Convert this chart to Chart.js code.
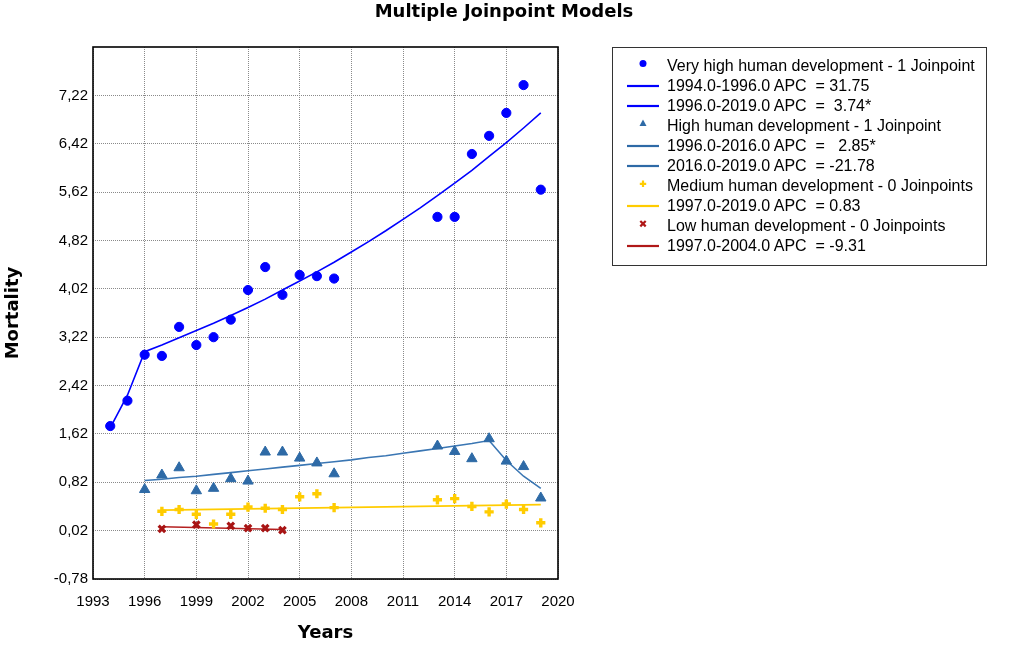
<!DOCTYPE html>
<html>
<head>
<meta charset="utf-8">
<script src="https://cdn.jsdelivr.net/npm/chart.js@4.4.1/dist/chart.umd.min.js"></script>
<style>
  html,body{margin:0;padding:0;background:#fff;}
  #wrap{position:relative;width:1021px;height:663px;overflow:hidden;}
  #c{position:absolute;left:0;top:0;}
  #title{position:absolute;left:0;width:1008px;top:0px;line-height:22px;text-align:center;font:bold 18px "DejaVu Sans",sans-serif;color:#000;}
  #legend{position:absolute;left:612px;top:47px;width:375px;height:219px;border:1px solid #333;box-sizing:border-box;padding-top:8px;}
  .row{height:20px;display:flex;align-items:center;font:16px "Liberation Sans",Arial,sans-serif;color:#000;white-space:pre;}
  .row svg{width:48px;height:20px;margin-left:6px;flex:none;}
</style>
</head>
<body>
<div id="wrap">
<canvas id="c" width="1021" height="663"></canvas>
<div id="title">Multiple Joinpoint Models</div>
<div id="legend"></div>
</div>
<script>
// ---- data ----
const vhYears  = [1994,1995,1996,1997,1998,1999,2000,2001,2002,2003,2004,2005,2006,2007,2013,2014,2015,2016,2017,2018,2019];
const vhValues = [1.75,2.17,2.93,2.91,3.39,3.09,3.22,3.51,4.00,4.38,3.92,4.25,4.23,4.19,5.21,5.21,6.25,6.55,6.93,7.39,5.66];
const vhFitYears  = [1994,1995,1996,1997,1998,1999,2000,2001,2002,2003,2004,2005,2006,2007,2008,2009,2010,2011,2012,2013,2014,2015,2016,2017,2018,2019];
const vhFitValues = [1.72,2.26,2.98,3.09,3.21,3.33,3.45,3.58,3.71,3.85,4.00,4.15,4.30,4.46,4.63,4.80,4.98,5.17,5.36,5.56,5.77,5.98,6.21,6.44,6.68,6.93];

const hYears  = [1996,1997,1998,1999,2000,2001,2002,2003,2004,2005,2006,2007,2013,2014,2015,2016,2017,2018,2019];
const hValues = [0.70,0.94,1.06,0.68,0.72,0.88,0.84,1.32,1.32,1.22,1.14,0.96,1.42,1.33,1.21,1.54,1.17,1.08,0.56];
const hFitYears  = [1996,1997,1998,1999,2000,2001,2002,2003,2004,2005,2006,2007,2008,2009,2010,2011,2012,2013,2014,2015,2016,2017,2018,2019];
const hFitValues = [0.85,0.87,0.90,0.92,0.95,0.98,1.01,1.04,1.07,1.10,1.13,1.16,1.19,1.23,1.26,1.30,1.34,1.38,1.42,1.46,1.51,1.18,0.92,0.72];

const mYears  = [1997,1998,1999,2000,2001,2002,2003,2004,2005,2006,2007,2013,2014,2015,2016,2017,2018,2019];
const mValues = [0.34,0.37,0.29,0.13,0.29,0.41,0.39,0.37,0.58,0.63,0.40,0.53,0.55,0.42,0.33,0.46,0.37,0.15];
const mFitYears  = [1997,2019];
const mFitValues = [0.36,0.45];

const lYears  = [1997,1999,2001,2002,2003,2004];
const lValues = [0.05,0.12,0.10,0.06,0.06,0.03];
const lFitYears  = [1997,2004];
const lFitValues = [0.085,0.04];

const xTicks = [1993,1996,1999,2002,2005,2008,2011,2014,2017,2020];
const yTicks = [-0.78,0.02,0.82,1.62,2.42,3.22,4.02,4.82,5.62,6.42,7.22];
const yMin = -0.78, yMax = 8.02;

const legendItems = [
  {type:'circle', color:'#0000ff', text:'Very high human development - 1 Joinpoint'},
  {type:'line',   color:'#0000ff', text:'1994.0-1996.0 APC  = 31.75'},
  {type:'line',   color:'#0000ff', text:'1996.0-2019.0 APC  =  3.74*'},
  {type:'triangle', color:'#2e6aa6', text:'High human development - 1 Joinpoint'},
  {type:'line',   color:'#2e6aa6', text:'1996.0-2016.0 APC  =   2.85*'},
  {type:'line',   color:'#2e6aa6', text:'2016.0-2019.0 APC  = -21.78'},
  {type:'plus',   color:'#ffcc00', text:'Medium human development - 0 Joinpoints'},
  {type:'line',   color:'#ffcc00', text:'1997.0-2019.0 APC  = 0.83'},
  {type:'cross',  color:'#b01818', text:'Low human development - 0 Joinpoints'},
  {type:'line',   color:'#b01818', text:'1997.0-2004.0 APC  = -9.31'}
];

const pts = (xs, ys) => xs.map((x,i)=>({x:x, y:ys[i]}));

// ---- legend (HTML text) ----
const leg = document.getElementById('legend');
legendItems.forEach(it=>{
  const row = document.createElement('div'); row.className='row';
  let icon='';
  if(it.type==='line') icon=`<line x1="8" y1="10" x2="40" y2="10" stroke="${it.color}" stroke-width="2.2"/>`;
  if(it.type==='circle') icon=`<circle cx="24" cy="7.5" r="3.5" fill="${it.color}"/>`;
  if(it.type==='triangle') icon=`<polygon points="24,3.5 27.5,10 20.5,10" fill="${it.color}"/>`;
  if(it.type==='plus') icon=`<path d="M24 4.5 V11 M20.8 7.8 H27.2" stroke="${it.color}" stroke-width="2.2"/>`;
  if(it.type==='cross') icon=`<path d="M21.3 5 L26.7 10.4 M26.7 5 L21.3 10.4" stroke="${it.color}" stroke-width="2.2"/>`;
  row.innerHTML = `<svg viewBox="0 0 48 20">${icon}</svg><span>${it.text}</span>`;
  leg.appendChild(row);
});

// ---- chart ----
const framePlugin = {
  id:'frame',
  afterDraw(chart){
    const {ctx, chartArea:a} = chart;
    ctx.save();
    ctx.strokeStyle='#000'; ctx.lineWidth=1.6; ctx.setLineDash([]);
    ctx.strokeRect(a.left, a.top, a.right-a.left, a.bottom-a.top);
    ctx.restore();
  }
};

const lineDs = (label, xs, ys, color) => ({
  type:'line', label, data:pts(xs,ys), borderColor:color, backgroundColor:color,
  borderWidth:1.6, pointRadius:0, tension:0, fill:false, order:2
});
const markDs = (label, xs, ys, color, style, radius, bw) => ({
  type:'line', label, data:pts(xs,ys), showLine:false, borderColor:color, backgroundColor:color,
  pointStyle:style, pointRadius:radius, pointBorderWidth:bw, pointHoverRadius:radius, order:1
});

new Chart(document.getElementById('c'), {
  type:'line',
  data:{
    datasets:[
      lineDs('VH fit', vhFitYears, vhFitValues, '#0000ff'),
      lineDs('H fit', hFitYears, hFitValues, '#3a76b3'),
      lineDs('M fit', mFitYears, mFitValues, '#ffcc00'),
      lineDs('L fit', lFitYears, lFitValues, '#b52020'),
      markDs('Very high', vhYears, vhValues, '#0000ff', 'circle', 4.6, 1),
      markDs('High', hYears, hValues, '#2e6aa6', 'triangle', 6, 1),
      markDs('Medium', mYears, mValues, '#ffcc00', 'cross', 4.6, 3.4),
      markDs('Low', lYears, lValues, '#a81414', 'crossRot', 4.6, 3.2)
    ]
  },
  options:{
    responsive:false,
    animation:false,
    devicePixelRatio:1,
    layout:{padding:{left:0, top:47, right:463, bottom:0}},
    plugins:{legend:{display:false}, title:{display:false}, tooltip:{enabled:false}},
    scales:{
      x:{
        type:'linear', min:1993, max:2020,
        afterBuildTicks(s){ s.ticks = xTicks.map(v=>({value:v})); },
        afterFit(s){ s.height = 84; },
        ticks:{color:'#000', padding:14, maxRotation:0, autoSkip:false,
               font:{family:'"Liberation Sans", Arial, sans-serif', size:15},
               callback:(v)=>String(v)},
        grid:{color:'#8a8a8a', lineWidth:1, drawTicks:false},
        border:{display:false, dash:[1,1]},
        title:{display:true, text:'Years', color:'#000',
               font:{family:'"DejaVu Sans", sans-serif', size:18, weight:'bold'},
               padding:{top:0, bottom:19}}
      },
      y:{
        type:'linear', min:yMin, max:yMax,
        afterBuildTicks(s){ s.ticks = yTicks.map(v=>({value:v})); },
        afterFit(s){ s.width = 93; },
        ticks:{color:'#000', padding:5, autoSkip:false,
               font:{family:'"Liberation Sans", Arial, sans-serif', size:15},
               callback:(v)=>v.toFixed(2).replace('.',',')},
        grid:{color:'#8a8a8a', lineWidth:1, drawTicks:false},
        border:{display:false, dash:[1,1]},
        title:{display:true, text:'Mortality', color:'#000',
               font:{family:'"DejaVu Sans", sans-serif', size:18, weight:'bold'},
               padding:{top:3, bottom:0}}
      }
    }
  },
  plugins:[framePlugin]
});
</script>
</body>
</html>
